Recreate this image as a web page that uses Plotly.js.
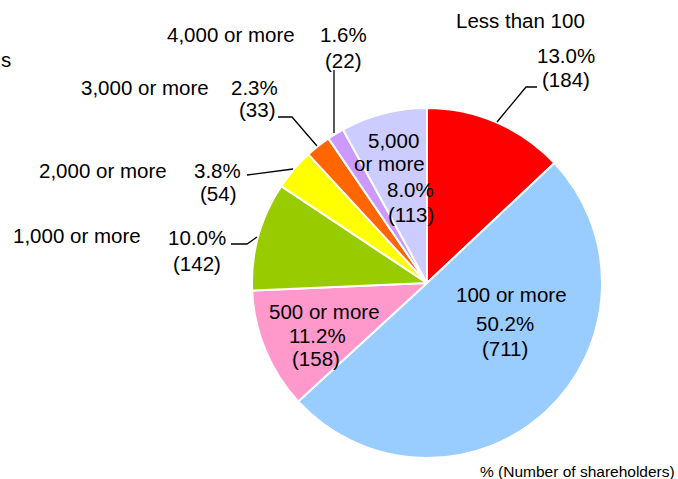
<!DOCTYPE html>
<html>
<head>
<meta charset="utf-8">
<script src="https://cdn.plot.ly/plotly-3.0.1.min.js"></script>
<style>html,body{margin:0;padding:0;background:#fff;}#chart{width:678px;height:479px;}</style>
</head>
<body>
<div id="chart"></div>
<script>
// ---- data ----
const labels = ["Less than 100", "100 or more", "500 or more", "1,000 or more", "2,000 or more", "3,000 or more", "4,000 or more", "5,000 or more"];
const shareholders = [184, 711, 158, 142, 54, 33, 22, 113];
const percents = ["13.0%", "50.2%", "11.2%", "10.0%", "3.8%", "2.3%", "1.6%", "8.0%"];
const unitNote = "% (Number of shareholders)";
const cutLabel = "s";

// ---- styles ----
const colors = ["#FF0000", "#99CCFF", "#FF99CC", "#99CC00", "#FFFF00", "#FF6600", "#CC99FF", "#CCCCFF"];
const W = 678, H = 479;
const FONT = "Liberation Sans, Arial, sans-serif";
const FS = 20.5;

// label placement (pixel centres) and leader lines
const place = [
  {name: [[520, 21]], pct: [566, 56], cnt: [566, 79], lead: [[497, 122], [526, 87], [537, 87]]},
  {name: [[511, 294]], pct: [505, 323], cnt: [505, 348]},
  {name: [[324, 311]], pct: [317, 335], cnt: [316, 358]},
  {name: [[77, 235]], pct: [197, 237], cnt: [197, 263], lead: [[231, 244], [247, 244], [257, 237]]},
  {name: [[103, 170]], pct: [217, 170], cnt: [218, 193], lead: [[247, 175], [293, 169]]},
  {name: [[145, 88]], pct: [255, 88], cnt: [257, 110], lead: [[278, 117], [292, 117], [317, 146]]},
  {name: [[231, 35]], pct: [343, 35], cnt: [343, 60], lead: [[334, 70], [334, 133]]},
  {name: [[393, 140], [389, 164]], pct: [410, 190], cnt: [411, 215]}
];

const px = x => x / W;
const py = y => 1 - y / H;

const annotations = [];
const shapes = [];
function addText(text, p, size, anchor) {
  annotations.push({
    text: text, x: px(p[0]), y: py(p[1]), xref: "paper", yref: "paper",
    xanchor: anchor || "center", yanchor: "middle", showarrow: false,
    font: {family: FONT, size: size || FS, color: "#000"}
  });
}
labels.forEach((lab, i) => {
  const pl = place[i];
  let nameLines = [lab];
  if (pl.name.length === 2) {
    const k = lab.indexOf(" or ");
    nameLines = [lab.slice(0, k), lab.slice(k + 1)];
  }
  nameLines.forEach((t, j) => addText(t, pl.name[j]));
  addText(percents[i], pl.pct);
  addText("(" + shareholders[i] + ")", pl.cnt);
  if (pl.lead) {
    const d = pl.lead.map((p, j) => (j === 0 ? "M" : "L") + px(p[0]) + "," + py(p[1])).join(" ");
    shapes.push({type: "path", path: d, xref: "paper", yref: "paper", line: {color: "#000", width: 1.3}});
  }
});
addText(unitNote, [577, 471], 15.5);
addText(cutLabel, [-1, 59], FS, "left");

// pie geometry: centre (427,283), radius 175
const cx = 427, cy = 283, r = 175;
const trace = {
  type: "pie",
  labels: labels,
  values: shareholders,
  sort: false,
  direction: "clockwise",
  rotation: 0,
  textinfo: "none",
  hoverinfo: "label+value+percent",
  marker: {colors: colors, line: {color: "#FFFFFF", width: 2}},
  domain: {x: [(cx - r) / W, (cx + r) / W], y: [(H - cy - r) / H, (H - cy + r) / H]},
  showlegend: false
};

Plotly.newPlot("chart", [trace], {
  width: W, height: H,
  margin: {l: 0, r: 0, t: 0, b: 0},
  paper_bgcolor: "#FFFFFF",
  showlegend: false,
  annotations: annotations,
  shapes: shapes
}, {displayModeBar: false, staticPlot: true});
</script>
</body>
</html>
